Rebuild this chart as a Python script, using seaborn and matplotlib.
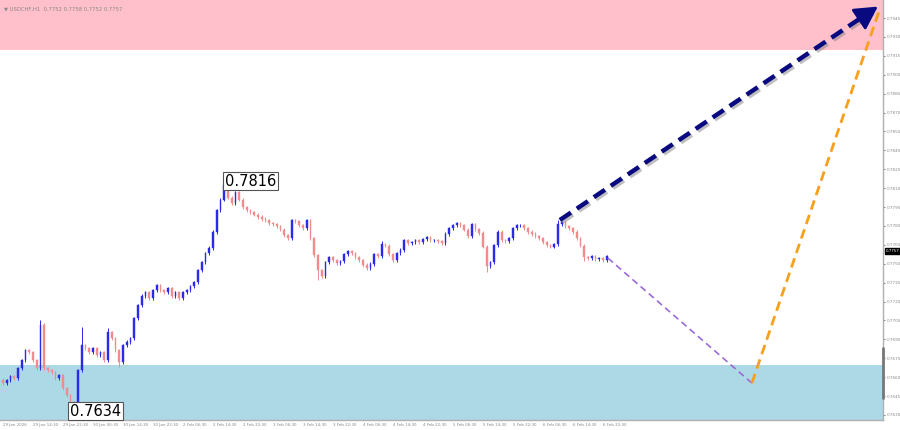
import matplotlib
matplotlib.use("Agg")
import matplotlib.pyplot as plt
import matplotlib.patheffects as pe
import numpy as np
import pandas as pd
import seaborn as sns

# hourly closes, USDCHF
closes = [
    0.76553, 0.76577, 0.76609, 0.76593, 0.76672, 0.76736, 0.76815, 0.76799, 0.76736, 0.76672,
    0.77014, 0.76672, 0.76656, 0.76640, 0.76593, 0.76617, 0.76513, 0.76458, 0.76402, 0.76355,
    0.76656, 0.76855, 0.76831, 0.76799, 0.76831, 0.76775, 0.76799, 0.76736, 0.76958, 0.76910,
    0.76815, 0.76720, 0.76855, 0.76879, 0.76910, 0.77069, 0.77172, 0.77244, 0.77275, 0.77228,
    0.77291, 0.77331, 0.77291, 0.77275, 0.77307, 0.77244, 0.77275, 0.77228, 0.77275, 0.77291,
    0.77323, 0.77355, 0.77450, 0.77513, 0.77585, 0.77625, 0.77752, 0.77926, 0.78006, 0.78125,
    0.78022, 0.77982, 0.78069, 0.78006, 0.77950, 0.77926, 0.77910, 0.77887, 0.77871, 0.77855,
    0.77847, 0.77823, 0.77815, 0.77799, 0.77768, 0.77728, 0.77704, 0.77847, 0.77839, 0.77807,
    0.77783, 0.77847, 0.77704, 0.77569, 0.77450, 0.77402, 0.77513, 0.77553, 0.77529, 0.77506,
    0.77521, 0.77577, 0.77601, 0.77585, 0.77553, 0.77529, 0.77490, 0.77466, 0.77498, 0.77577,
    0.77561, 0.77656, 0.77641, 0.77577, 0.77529, 0.77585, 0.77609, 0.77688, 0.77664, 0.77672,
    0.77688, 0.77672, 0.77696, 0.77712, 0.77688, 0.77688, 0.77680, 0.77664, 0.77736, 0.77783,
    0.77807, 0.77823, 0.77807, 0.77768, 0.77720, 0.77815, 0.77775, 0.77744, 0.77633, 0.77482,
    0.77513, 0.77648, 0.77752, 0.77688, 0.77680, 0.77704, 0.77783, 0.77807, 0.77807, 0.77783,
    0.77752, 0.77736, 0.77720, 0.77704, 0.77672, 0.77648, 0.77633, 0.77656, 0.77815, 0.77831,
    0.77799, 0.77783, 0.77752, 0.77704, 0.77641, 0.77553, 0.77545, 0.77561, 0.77537, 0.77545,
    0.77529, 0.77561,
]
first_open = 0.76580
spike_highs = {10: 0.77053, 21: 0.77000, 28: 0.76990, 59: 0.78160, 101: 0.77680, 148: 0.77850}
spike_lows = {19: 0.76340, 31: 0.76680, 84: 0.77371, 129: 0.77434, 155: 0.77520}

# forecast paths (hour index, price)
main_wave_x = [148.5, 233.9]
main_wave_y = [0.77847, 0.79553]
pullback_x = [161.3, 199.7]
pullback_y = [0.77545, 0.76553]
rally_x = [199.7, 233.9]
rally_y = [0.76553, 0.79529]

resistance_zone = (0.7920, 0.7970)
support_zone = (0.7600, 0.7670)

price_ticks = [0.7630, 0.7645, 0.7660, 0.7675, 0.7690, 0.7705, 0.7720, 0.7735, 0.7750,
               0.7765, 0.7780, 0.7795, 0.7810, 0.7825, 0.7840, 0.7855, 0.7870, 0.7885,
               0.7900, 0.7915, 0.7930, 0.7945]
time_labels = ["29 Jan 2026", "29 Jan 14:30", "29 Jan 22:30", "30 Jan 06:30", "30 Jan 14:30",
               "30 Jan 22:30", "2 Feb 06:30", "2 Feb 14:30", "2 Feb 22:30", "3 Feb 06:30",
               "3 Feb 14:30", "3 Feb 22:30", "4 Feb 06:30", "4 Feb 14:30", "4 Feb 22:30",
               "5 Feb 06:30", "5 Feb 14:30", "5 Feb 22:30", "6 Feb 06:30", "6 Feb 14:30",
               "6 Feb 22:30"]

sns.set_style("white")
plt.rcParams["font.family"] = ["DejaVu Sans"]

df = pd.DataFrame({"h": np.arange(len(closes)), "close": closes})
df["open"] = [first_open] + closes[:-1]
df["high"] = df[["open", "close"]].max(axis=1) + 0.00012
df["low"] = df[["open", "close"]].min(axis=1) - 0.00012
for k, v in spike_highs.items():
    df.loc[k, "high"] = max(v, df.loc[k, "high"])
for k, v in spike_lows.items():
    df.loc[k, "low"] = min(v, df.loc[k, "low"])
df["up"] = df["close"] >= df["open"]

fig = plt.figure(figsize=(9, 4.3), dpi=100)
ax = fig.add_axes([0, 10 / 430, 883 / 900, 420 / 430])

y_top, y_bot = 0.79593, 0.76260
ax.set_ylim(y_bot, y_top)
ax.set_xlim(-0.8, 234.67)

ax.axhspan(resistance_zone[0], resistance_zone[1], color="#FFC0CB", zorder=0, lw=0)
ax.axhspan(support_zone[0], support_zone[1], color="#ADD8E6", zorder=0, lw=0)

up_c, dn_c = "#2a2ae8", "#f08c8c"
colors = np.where(df["up"], up_c, dn_c)
ax.vlines(df["h"], df["low"], df["high"], colors=colors, lw=0.7, zorder=3)
ax.bar(df["h"], (df["close"] - df["open"]).abs().clip(lower=0.00003),
       bottom=df[["open", "close"]].min(axis=1), width=0.5, color=colors,
       edgecolor=colors, lw=0.3, zorder=3)

# forecast waves
shadow = [pe.SimpleLineShadow(offset=(1.5, -1.5), shadow_color="gray", alpha=0.5), pe.Normal()]
sns.lineplot(x=pullback_x, y=pullback_y, ax=ax, color="#9b6bd6", lw=1.2,
             linestyle=(0, (4, 2.5)), zorder=4)
sns.lineplot(x=rally_x, y=rally_y, ax=ax, color="#f7a01c", lw=2,
             linestyle=(0, (3.5, 2)), zorder=4)
sns.lineplot(x=main_wave_x[:1] + [main_wave_x[1] - 2.5],
             y=main_wave_y[:1] + [main_wave_y[1] - 0.00050],
             ax=ax, color="#0a0a80", lw=3.2, linestyle=(0, (3, 1.6)), zorder=5,
             path_effects=shadow)
ax.annotate("", xy=(main_wave_x[1], main_wave_y[1]),
            xytext=(main_wave_x[1] - 4, main_wave_y[1] - 0.0008),
            arrowprops=dict(arrowstyle="-|>,head_length=1.0,head_width=0.55",
                            color="#0a0a80", lw=2, mutation_scale=14), zorder=6)

# extreme labels
for hx, price, txt in [(59.2, 0.78156, "0.7816"), (17.9, 0.76331, "0.7634")]:
    ax.text(hx, price, txt, fontsize=10.5, ha="left", va="center", color="black",
            bbox=dict(boxstyle="square,pad=0.12", fc="white", ec="#555555", lw=0.8), zorder=7)

# axes styling
for s in ["top", "left"]:
    ax.spines[s].set_visible(False)
for s in ["right", "bottom"]:
    ax.spines[s].set_color("#b0b0b0")
    ax.spines[s].set_linewidth(1)

ax.yaxis.tick_right()
ax.set_yticks(price_ticks)
ax.set_yticklabels([f"{p:.4f}" for p in price_ticks])
ax.tick_params(axis="y", labelsize=3, colors="#888888", length=1.5, pad=1)

ax.set_xticks([8 * i for i in range(len(time_labels))])
ax.set_xticklabels(time_labels, ha="left")
ax.tick_params(axis="x", labelsize=2.9, colors="#888888", length=2, pad=1, direction="inout")
ax.set_xlabel("")
ax.set_ylabel("")

# scroll marker on price scale
ax.plot([1, 1], [0.76434, 0.76831], transform=ax.get_yaxis_transform(), color="#777777",
        lw=2, clip_on=False, zorder=8)

ax.text(1.003, 0.7760, "0.7757", transform=ax.get_yaxis_transform(), fontsize=2.9,
        color="white", va="center", ha="left",
        bbox=dict(boxstyle="square,pad=0.2", fc="black", ec="black"), clip_on=False)

ax.text(0.004, 0.985, "\u25bc USDCHF,H1  0.7752 0.7758 0.7752 0.7757", transform=ax.transAxes,
        fontsize=3.8, color="#888888", va="top", ha="left")

fig.savefig("out.png", dpi=100)
